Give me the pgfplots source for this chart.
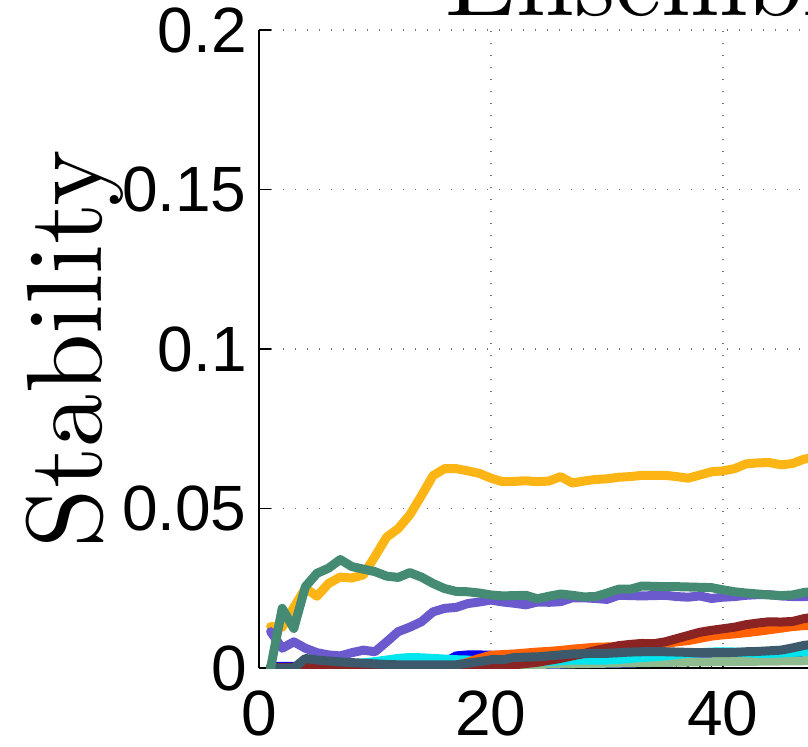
\documentclass[border=0pt]{standalone}
\usepackage{pgfplots}
\pgfplotsset{compat=1.18}
\usepackage{pgfplotstable}
\usepackage{fontspec}
\newfontfamily\tickfont{Liberation Sans}
\newfontfamily\cmten{lmroman10-regular.otf}
\definecolor{cY}{RGB}{253,181,21}
\definecolor{cG}{RGB}{69,139,116}
\definecolor{cP}{RGB}{106,90,205}
\definecolor{cR}{RGB}{139,35,35}
\definecolor{cO}{RGB}{255,97,3}
\definecolor{cB}{RGB}{0,0,255}
\definecolor{cC}{RGB}{0,229,238}
\definecolor{cS}{RGB}{143,188,143}
\definecolor{cD}{RGB}{60,90,108}

\pgfplotstableread{
x y
1 0.0130
2 0.0128
3 0.0190
4 0.0250
5 0.0225
6 0.0265
7 0.0285
8 0.0282
9 0.0292
10 0.0350
11 0.0410
12 0.0437
13 0.0480
14 0.0540
15 0.0603
16 0.0625
17 0.0625
18 0.0618
19 0.0610
20 0.0595
21 0.0584
22 0.0585
23 0.0587
24 0.0584
25 0.0586
26 0.0600
27 0.0580
28 0.0586
29 0.0591
30 0.0593
31 0.0598
32 0.0600
33 0.0604
34 0.0604
35 0.0604
36 0.0600
37 0.0595
38 0.0605
39 0.0615
40 0.0618
41 0.0625
42 0.0640
43 0.0643
44 0.0644
45 0.0637
46 0.0641
47 0.0655
48 0.0660
49 0.0662
50 0.0665
}\tY

\pgfplotstableread{
x y
1 0.0000
2 0.0187
3 0.0124
4 0.0255
5 0.0297
6 0.0313
7 0.0340
8 0.0318
9 0.0310
10 0.0302
11 0.0288
12 0.0284
13 0.0299
14 0.0285
15 0.0265
16 0.0249
17 0.0240
18 0.0239
19 0.0235
20 0.0229
21 0.0226
22 0.0227
23 0.0228
24 0.0217
25 0.0225
26 0.0232
27 0.0228
28 0.0223
29 0.0224
30 0.0235
31 0.0247
32 0.0247
33 0.0257
34 0.0256
35 0.0255
36 0.0255
37 0.0254
38 0.0253
39 0.0252
40 0.0245
41 0.0239
42 0.0235
43 0.0232
44 0.0229
45 0.0227
46 0.0229
47 0.0237
48 0.0240
49 0.0240
50 0.0240
}\tG

\pgfplotstableread{
x y
1 0.0114
2 0.0062
3 0.0082
4 0.0062
5 0.0048
6 0.0041
7 0.0038
8 0.0048
9 0.0056
10 0.0051
11 0.0082
12 0.0114
13 0.0128
14 0.0145
15 0.0176
16 0.0187
17 0.0190
18 0.0202
19 0.0207
20 0.0213
21 0.0207
22 0.0203
23 0.0198
24 0.0207
25 0.0206
26 0.0208
27 0.0220
28 0.0220
29 0.0218
30 0.0215
31 0.0228
32 0.0227
33 0.0226
34 0.0227
35 0.0228
36 0.0224
37 0.0222
38 0.0226
39 0.0218
40 0.0222
41 0.0224
42 0.0228
43 0.0230
44 0.0230
45 0.0226
46 0.0224
47 0.0224
48 0.0225
49 0.0225
50 0.0225
}\tP

\pgfplotstableread{
x y
1 0.0002
10 0.0002
18 0.0002
19 0.0003
20 0.0005
21 0.0008
22 0.0010
23 0.0014
24 0.0018
25 0.0024
26 0.0030
27 0.0038
28 0.0045
29 0.0055
30 0.0062
31 0.0070
32 0.0074
33 0.0077
34 0.0076
35 0.0082
36 0.0092
37 0.0102
38 0.0112
39 0.0118
40 0.0123
41 0.0128
42 0.0136
43 0.0141
44 0.0145
45 0.0144
46 0.0146
47 0.0155
48 0.0160
49 0.0165
50 0.0170
}\tR

\pgfplotstableread{
x y
1 0.0001
10 0.0001
16 0.0001
17 0.0008
18 0.0018
19 0.0030
20 0.0040
21 0.0042
22 0.0044
23 0.0047
24 0.0050
25 0.0052
26 0.0055
27 0.0059
28 0.0062
29 0.0065
30 0.0066
31 0.0067
32 0.0069
33 0.0070
34 0.0073
35 0.0077
36 0.0082
37 0.0086
38 0.0093
39 0.0100
40 0.0104
41 0.0107
42 0.0111
43 0.0115
44 0.0120
45 0.0125
46 0.0130
47 0.0133
48 0.0136
49 0.0140
50 0.0143
}\tO

\pgfplotstableread{
x y
1 0.0005
15 0.0005
16 0.0018
17 0.0038
18 0.0041
19 0.0041
20 0.0040
21 0.0039
22 0.0034
23 0.0016
24 0.0010
25 0.0010
26 0.0012
27 0.0015
28 0.0017
29 0.0016
30 0.0015
31 0.0015
32 0.0016
33 0.0017
34 0.0018
35 0.0019
36 0.0020
37 0.0021
38 0.0022
39 0.0022
40 0.0022
41 0.0023
42 0.0024
43 0.0025
44 0.0026
45 0.0027
46 0.0028
47 0.0030
48 0.0030
49 0.0031
50 0.0031
}\tB

\pgfplotstableread{
x y
1 0.0000
3 0.0000
4 0.0003
5 0.0007
6 0.0010
7 0.0012
8 0.0014
9 0.0016
10 0.0020
11 0.0025
12 0.0030
13 0.0033
14 0.0032
15 0.0030
16 0.0028
17 0.0026
18 0.0025
19 0.0022
20 0.0018
21 0.0016
22 0.0015
23 0.0017
24 0.0019
25 0.0021
26 0.0023
27 0.0025
28 0.0025
29 0.0025
30 0.0025
31 0.0027
32 0.0030
33 0.0033
34 0.0035
35 0.0038
36 0.0042
37 0.0046
38 0.0048
39 0.0050
40 0.0051
41 0.0050
42 0.0048
43 0.0046
44 0.0046
45 0.0047
46 0.0049
47 0.0051
48 0.0053
49 0.0055
50 0.0057
}\tC

\pgfplotstableread{
x y
1 0.0000
10 0.0000
15 0.0004
20 0.0008
25 0.0012
30 0.0015
35 0.0018
40 0.0020
45 0.0022
50 0.0024
}\tS

\pgfplotstableread{
x y
1 0.0000
2 0.0000
3 0.0000
4 0.0030
5 0.0025
6 0.0022
7 0.0019
8 0.0017
9 0.0015
10 0.0013
11 0.0011
12 0.0010
13 0.0010
14 0.0010
15 0.0010
16 0.0010
17 0.0010
18 0.0015
19 0.0020
20 0.0026
21 0.0026
22 0.0033
23 0.0034
24 0.0035
25 0.0038
26 0.0041
27 0.0044
28 0.0045
29 0.0046
30 0.0046
31 0.0048
32 0.0050
33 0.0051
34 0.0051
35 0.0051
36 0.0050
37 0.0049
38 0.0048
39 0.0048
40 0.0048
41 0.0049
42 0.0051
43 0.0052
44 0.0054
45 0.0056
46 0.0063
47 0.0071
48 0.0075
49 0.0078
50 0.0080
}\tD

\begin{document}
\begin{tikzpicture}
\useasboundingbox (0,0) rectangle (404pt,373pt);
\clip (0,0) rectangle (404pt,373pt);
\begin{axis}[
  at={(129.5pt,39pt)}, anchor=south west,
  scale only axis, width=580pt, height=319pt,
  xmin=0, xmax=100, ymin=0, ymax=0.2,
  axis x line*=bottom, axis y line*=left,
  axis line style={black, line width=0.75pt},
  xtick={0,20,40}, xticklabels={0,20,40},
  ytick={0,0.05,0.1,0.15,0.2}, yticklabels={0,0.05,0.1,0.15,0.2},
  minor x tick num=19,
  tick align=inside,
  major tick length=6pt, minor tick length=1.5pt,
  tick style={black, line width=0.75pt},
  grid=major,
  major grid style={black!55, line width=0.6pt, dash pattern=on 0.6pt off 5.4pt},
  ticklabel style={font=\tickfont\fontsize{32}{32}\selectfont, inner sep=0pt},
  yticklabel style={anchor=east, xshift=-6pt},
  xticklabel style={anchor=north, yshift=-11pt},
  every axis plot/.append style={line width=4.5pt, line join=round, line cap=round, no markers},
]
\addplot[cB] table {\tB};
\addplot[cS] table {\tS};
\addplot[cC] table {\tC};
\addplot[cO] table {\tO};
\addplot[cR] table {\tR};
\addplot[cY] table {\tY};
\addplot[cP] table {\tP};
\addplot[cD] table {\tD};
\addplot[cG] table {\tG};
\end{axis}
\node[rotate=90, anchor=base, inner sep=0pt, font=\cmten\fontsize{53.5}{60}\selectfont] at (50.5pt,198.5pt) {Stability};
\node[anchor=base west, inner sep=0pt, font=\cmten\fontsize{52}{60}\selectfont] at (222.5pt,365pt) {Ensemble};
\end{tikzpicture}
\end{document}
